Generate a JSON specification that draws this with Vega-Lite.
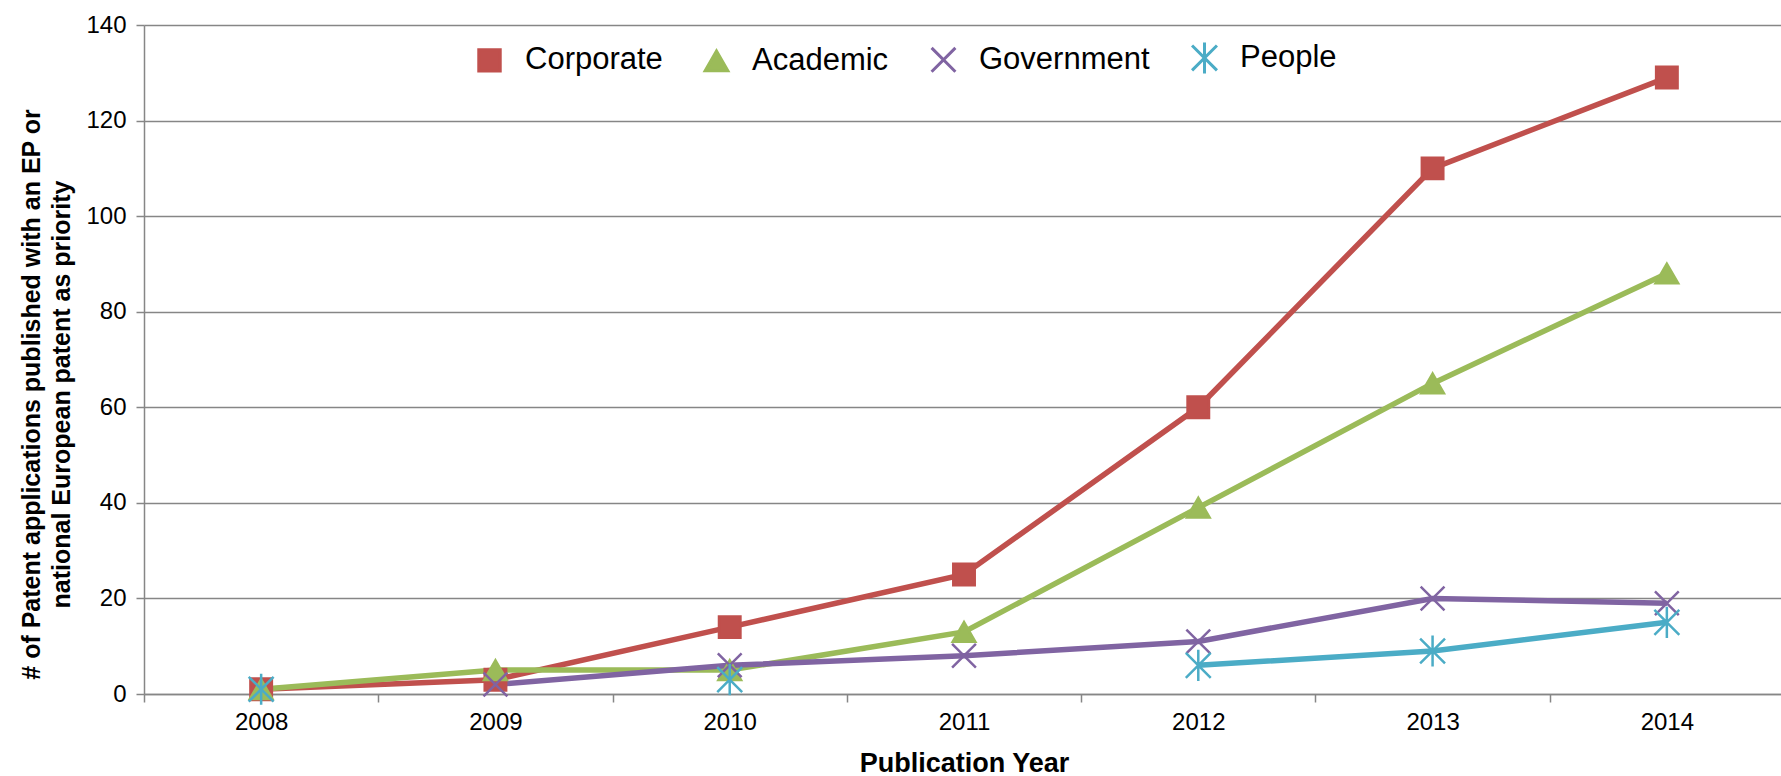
{
  "$schema": "https://vega.github.io/schema/vega-lite/v6.json",
  "width": 1640,
  "height": 669,
  "autosize": {"type": "none"},
  "padding": {"left": 144, "top": 25, "right": 0, "bottom": 82},
  "background": "white",
  "config": {
    "view": {"stroke": null},
    "font": "Liberation Sans",
    "legend": {
      "orient": "none",
      "legendX": 330,
      "legendY": 17,
      "direction": "horizontal",
      "title": null,
      "padding": 0,
      "labelFontSize": 31,
      "labelColor": "#000000",
      "labelFont": "Liberation Sans",
      "labelLimit": 0,
      "labelOffset": 20,
      "symbolSize": 400,
      "symbolStrokeWidth": 3,
      "columnPadding": 36
    }
  },
  "data": {
    "values": [
      {"year": "2008", "series": "Corporate", "value": 1},
      {"year": "2009", "series": "Corporate", "value": 3},
      {"year": "2010", "series": "Corporate", "value": 14},
      {"year": "2011", "series": "Corporate", "value": 25},
      {"year": "2012", "series": "Corporate", "value": 60},
      {"year": "2013", "series": "Corporate", "value": 110},
      {"year": "2014", "series": "Corporate", "value": 129},
      {"year": "2008", "series": "Academic", "value": 1},
      {"year": "2009", "series": "Academic", "value": 5},
      {"year": "2010", "series": "Academic", "value": 5},
      {"year": "2011", "series": "Academic", "value": 13},
      {"year": "2012", "series": "Academic", "value": 39},
      {"year": "2013", "series": "Academic", "value": 65},
      {"year": "2014", "series": "Academic", "value": 88},
      {"year": "2008", "series": "Government", "value": null},
      {"year": "2009", "series": "Government", "value": 2},
      {"year": "2010", "series": "Government", "value": 6},
      {"year": "2011", "series": "Government", "value": 8},
      {"year": "2012", "series": "Government", "value": 11},
      {"year": "2013", "series": "Government", "value": 20},
      {"year": "2014", "series": "Government", "value": 19},
      {"year": "2008", "series": "People", "value": 1},
      {"year": "2009", "series": "People", "value": null},
      {"year": "2010", "series": "People", "value": 3},
      {"year": "2011", "series": "People", "value": null},
      {"year": "2012", "series": "People", "value": 6},
      {"year": "2013", "series": "People", "value": 9},
      {"year": "2014", "series": "People", "value": 15}
    ]
  },
  "encoding": {
    "x": {
      "field": "year",
      "type": "ordinal",
      "bandPosition": 0.5,
      "scale": {"type": "band", "paddingInner": 0, "paddingOuter": 0},
      "axis": {
        "title": "Publication Year",
        "titleFontSize": 27,
        "titleFontWeight": "bold",
        "titleColor": "#000000",
        "titlePadding": 16,
        "labelFontSize": 24,
        "labelColor": "#000000",
        "labelAngle": 0,
        "labelPadding": 8,
        "tickBand": "extent",
        "tickSize": 8,
        "tickColor": "#868686",
        "tickWidth": 1.5,
        "domainColor": "#868686",
        "domainWidth": 1.5,
        "grid": false
      }
    },
    "y": {
      "field": "value",
      "type": "quantitative",
      "scale": {"domain": [0, 140], "nice": false},
      "axis": {
        "values": [0, 20, 40, 60, 80, 100, 120, 140],
        "title": ["# of Patent applications published with an EP or", "national European patent as priority"],
        "titleFontSize": 25,
        "titleFontWeight": "bold",
        "titleColor": "#000000",
        "titleLineHeight": 30,
        "titleBaseline": "bottom",
        "titleX": -100,
        "titleY": 369,
        "labelFontSize": 24,
        "labelColor": "#000000",
        "labelPadding": 10,
        "tickSize": 8,
        "tickColor": "#868686",
        "tickWidth": 1.5,
        "domainColor": "#868686",
        "domainWidth": 1.5,
        "grid": true,
        "gridColor": "#868686",
        "gridWidth": 1.3
      }
    },
    "color": {
      "field": "series",
      "type": "nominal",
      "scale": {"domain": ["Corporate", "Academic", "Government", "People"], "range": ["#C0504D", "#9BBB59", "#8064A2", "#4BACC6"]},
      "legend": {
        "encode": {
          "symbols": {
            "update": {
              "shape": {"value": {"expr": "datum.value === 'Corporate' ? 'M-2.75,0H2.75M-1,-1H1V1H-1Z' : datum.value === 'Academic' ? 'M-2.75,0H2.75M0,-1.15L1.15,0.85H-1.15Z' : datum.value === 'Government' ? 'M-2.75,0H2.75M-0.8,-0.8L0.8,0.8M-0.8,0.8L0.8,-0.8' : 'M-2.75,0H2.75M-0.8,-0.8L0.8,0.8M-0.8,0.8L0.8,-0.8M0,-1.1L0,1.1'"}},
              "fill": {"value": {"expr": "datum.value === 'Corporate' ? '#C0504D' : datum.value === 'Academic' ? '#9BBB59' : 'transparent'"}}
            }
          }
        }
      }
    }
  },
  "layer": [
    {
      "mark": {"type": "line", "strokeWidth": 5.5, "invalid": "break-paths-filter-domains"}
    },
    {
      "mark": {"type": "point", "filled": false, "strokeWidth": 2.5, "opacity": 1, "invalid": "filter"},
      "encoding": {
        "fill": {
          "field": "series",
          "type": "nominal",
          "scale": {"domain": ["Corporate", "Academic", "Government", "People"], "range": ["#C0504D", "#9BBB59", "transparent", "transparent"]},
          "legend": null
        },
        "shape": {
          "field": "series",
          "type": "nominal",
          "scale": {"domain": ["Corporate", "Academic", "Government", "People"], "range": ["square", "triangle-up", "M-1,-1L1,1M-1,1L1,-1", "M-1,-1L1,1M-1,1L1,-1M0,-1.25L0,1.25"]},
          "legend": null
        },
        "size": {
          "field": "series",
          "type": "nominal",
          "scale": {"domain": ["Corporate", "Academic", "Government", "People"], "range": [460, 620, 420, 420]},
          "legend": null
        }
      }
    }
  ]
}
